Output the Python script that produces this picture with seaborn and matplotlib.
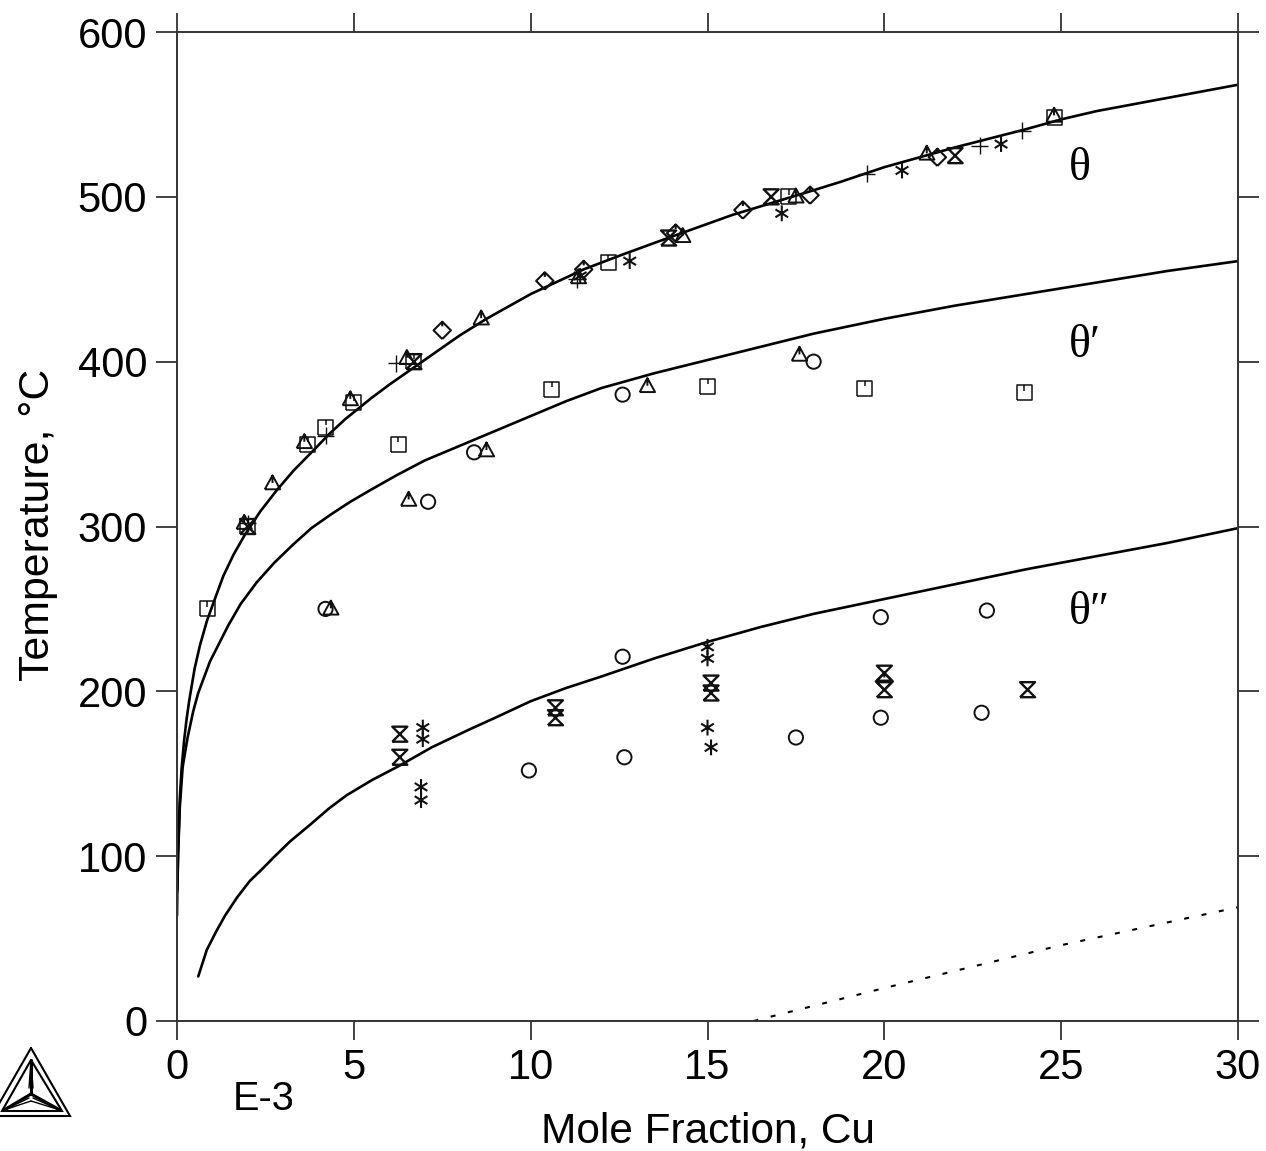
import numpy as np
import pandas as pd
import matplotlib
matplotlib.use("Agg")
import matplotlib.pyplot as plt
from matplotlib.path import Path
import seaborn as sns

sns.set_theme(style="white")
plt.rcParams['font.family'] = ['Liberation Sans', 'DejaVu Sans']

# --- data ---
theta_x = [0.0, 0.01, 0.03, 0.08, 0.13, 0.2, 0.27, 0.35, 0.5, 0.65, 0.85, 1.07, 1.31, 1.6, 1.92, 2.35, 2.82, 3.3, 3.85, 4.3, 4.75, 5.5, 6, 7, 8, 8.75, 10, 11.5, 12.6, 13.75, 15.7, 18, 18.75, 20, 22, 24, 25, 26, 28, 30]
theta_t = [64, 81, 102, 135, 153, 170, 183, 195, 214, 228, 243, 256, 270, 283, 295, 309, 322, 334, 346, 356, 365, 378, 386, 401, 416, 426, 441, 456, 465, 474, 489, 504, 509, 518, 530, 541, 547, 552, 560, 568]
thetap_x = [0.0, 0.01, 0.03, 0.08, 0.16, 0.3, 0.46, 0.6, 0.93, 1.45, 1.8, 2.25, 2.75, 3.28, 3.8, 4.33, 4.9, 5.46, 6.2, 7, 8, 9, 10, 11, 12, 13.5, 15, 16.5, 18, 20, 22, 24, 26, 28, 30]
thetap_t = [78, 80, 100, 130, 154, 172, 188, 199, 218, 240, 253, 266, 278, 289, 299, 307, 315, 322, 331, 340, 349, 358, 367, 376, 384, 393, 401, 409, 417, 426, 434, 441, 448, 455, 461]
thetapp_x = [0.6, 0.84, 1.1, 1.36, 1.7, 2.06, 2.4, 2.72, 3.2, 3.76, 4.3, 4.8, 5.5, 6.3, 7.2, 8.28, 9, 10, 11, 12, 13.5, 15, 16.5, 18, 20, 22, 24, 26, 28, 30]
thetapp_t = [27, 43, 54, 64, 75, 85, 92, 99, 109, 119, 129, 137, 146, 155, 166, 177, 184, 194, 202, 209, 220, 230, 239, 247, 256, 265, 274, 282, 290, 299]
dotted_x = [16.3, 20, 25, 30]
dotted_t = [0, 20, 46, 69]

square_x = [0.85, 2, 3.7, 4.2, 5, 6.25, 6.7, 10.6, 12.2, 15, 17.3, 19.45, 23.95, 24.8]
square_t = [250, 300, 350, 360, 375, 350, 400, 383, 460, 385, 500, 384, 381, 548]
tri_x = [1.9, 2.7, 3.6, 4.35, 4.9, 6.5, 6.55, 8.6, 8.75, 11.35, 13.3, 14.3, 17.6, 17.5, 21.2, 24.8]
tri_t = [302, 326, 351, 250, 377, 402, 316, 426, 346, 451, 385, 476, 404, 500, 526, 549]
dia_x = [7.5, 10.4, 11.5, 14.1, 16, 17.9, 21.5, 20]
dia_t = [419, 449, 456, 478, 492, 501, 524, 206]
hour_x = [2, 6.7, 13.9, 16.8, 22, 6.3, 6.3, 10.7, 10.7, 15.1, 15.1, 20, 20, 24.05]
hour_t = [300, 400, 475, 500, 525, 174, 160, 190, 184, 205, 199, 211, 201, 201]
star_x = [11.4, 12.8, 17.1, 20.5, 23.3, 6.95, 6.95, 6.9, 6.9, 15, 15, 15, 15.1]
star_t = [452, 461, 490, 516, 532, 178, 171, 142, 134, 227, 220, 178, 166]
plus_x = [2, 4.2, 6.2, 11.3, 19.5, 22.7, 23.9]
plus_t = [302, 355, 399, 450, 514, 531, 540]
circ_x = [4.2, 7.1, 8.4, 12.6, 18, 12.6, 19.9, 22.9, 9.95, 12.65, 17.5, 19.9, 22.75]
circ_t = [250, 315, 345, 380, 400, 221, 245, 249, 152, 160, 172, 184, 187]

x_ticks = [0, 5, 10, 15, 20, 25, 30]
y_ticks = [0, 100, 200, 300, 400, 500, 600]

W, H = 1266, 1151
fig = plt.figure(figsize=(W / 100, H / 100), dpi=100, facecolor='white')
ax = fig.add_axes([177 / W, 1 - 1021 / H, (1238 - 177) / W, (1021 - 32) / H])

for xs, ts in [(theta_x, theta_t), (thetap_x, thetap_t), (thetapp_x, thetapp_t)]:
    sns.lineplot(x=xs, y=ts, ax=ax, color='black', lw=1.9, sort=False, errorbar=None, clip_on=True)
sns.lineplot(x=dotted_x, y=dotted_t, ax=ax, color='black', lw=1.5, sort=False, errorbar=None,
             linestyle=(0, (2.4, 6.1)))

# custom open markers with the small inner tick
M, L = Path.MOVETO, Path.LINETO
sq = Path([(-1, -1), (1, -1), (1, 1), (-1, 1), (-1, -1), (0, 1), (0, 0.3)], [M, L, L, L, L, M, L])
tr = Path([(-1.15, -0.85), (1.15, -0.85), (0, 1.25), (-1.15, -0.85), (0, 1.25), (0, 0.1)], [M, L, L, L, M, L])
di = Path([(0, -1.3), (1.3, 0), (0, 1.3), (-1.3, 0), (0, -1.3), (0, 1.3), (0, 0.6)], [M, L, L, L, L, M, L])
hg = Path([(-1, -1), (1, -1), (-1, 1), (1, 1), (-1, -1)], [M, L, L, L, L])
st = Path([(0, -1), (0, 1), (-.8, -.5), (.8, .5), (-.8, .5), (.8, -.5)], [M, L, M, L, M, L])
pl = Path([(-1, 0), (1, 0), (0, -1), (0, 1)], [M, L, M, L])

series = [
    (square_x, square_t, sq, 117, 1.1),
    (tri_x, tri_t, tr, 144, 1.4),
    (dia_x, dia_t, di, 156, 1.5),
    (hour_x, hour_t, hg, 117, 1.7),
    (star_x, star_t, st, 130, 1.5),
    (plus_x, plus_t, pl, 150, 1.0),
    (circ_x, circ_t, 'o', 105, 1.4),
]
for xs, ts, mk, size, width in series:
    df = pd.DataFrame({'x': xs, 't': ts})
    sns.scatterplot(data=df, x='x', y='t', ax=ax, marker=mk, s=size, facecolor='none',
                    edgecolor='#111111', linewidth=width, zorder=4, clip_on=False)

ax.set_xlim(0, 30)
ax.set_ylim(0, 600)
ax.set_xticks(x_ticks)
ax.set_yticks(y_ticks)
ax.set_xlabel('')
ax.set_ylabel('')
ax.tick_params(axis='x', which='both', direction='out', length=13.7, width=1.3, color='#333333',
               top=True, bottom=True, labelsize=30, pad=6, labelcolor='black')
ax.tick_params(axis='y', which='both', direction='out', length=15, width=1.3, color='#333333',
               left=True, right=True, labelsize=30, pad=6.5, labelcolor='black')
for s in ax.spines.values():
    s.set_visible(True)
    s.set_color('#333333')
    s.set_linewidth(1.4)

fig.text(264 / W, 1 - 1099 / H, 'E-3', fontsize=28.6, ha='center', va='center', color='black')
fig.text(708 / W, 1 - 1131 / H, 'Mole Fraction, Cu', fontsize=30.5, ha='center', va='center', color='black')
fig.text(38 / W, 1 - 525 / H, 'Temperature, °C', fontsize=30.8, rotation=90, ha='center', va='center', color='black')

for lbl, px, py in [('θ', 1069, 169), ('θ′', 1069, 346), ('θ″', 1069, 613)]:
    fig.text(px / W, 1 - py / H, lbl, fontsize=33, ha='left', va='center', color='black',
             family=['Liberation Serif', 'DejaVu Serif'])

# logo drawn in pixel space
logo = fig.add_axes([0, 0, 1, 1], facecolor='none')
logo.set_xlim(0, W)
logo.set_ylim(H, 0)
logo.axis('off')
def poly(px, py, lw=1.5):
    logo.plot(px, py, color='black', lw=lw, solid_joinstyle='miter')
poly([31, 70, -8, 31], [1048, 1116, 1116, 1048])
poly([31, 62, 2, 31], [1060, 1111, 1111, 1060])
for ex, ey in [(31, 1060), (4, 1110), (60, 1110)]:
    poly([31, ex], [1094, ey], lw=2.2)
    poly([29 if ex <= 31 else 33, ex], [1088 if ex == 31 else 1098, ey], lw=1.0)
    poly([33 if ex == 31 else 31, ex], [1088 if ex == 31 else 1101, ey], lw=1.0)

fig.savefig('out.png', dpi=100, facecolor='white')
